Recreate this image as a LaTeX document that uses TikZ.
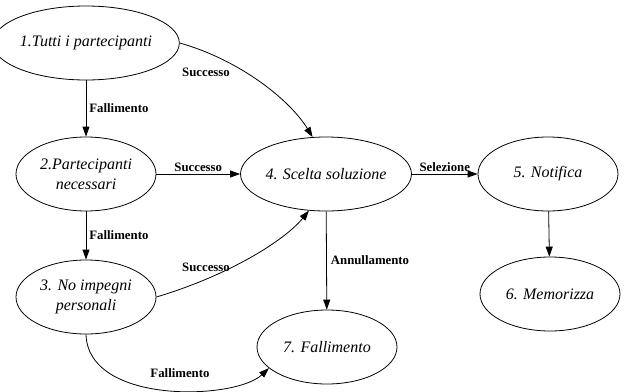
\documentclass[tikz,border=0pt]{standalone}
\usepackage{fontspec}
\setmainfont{Liberation Serif}
\usepackage{tikz}
\usetikzlibrary{shapes.geometric,arrows.meta}

\begin{document}
\begin{tikzpicture}[x=1pt,y=-1pt,
	stato/.style={draw, ellipse, line width=0.8pt, minimum width=140pt, minimum height=74pt, inner sep=0pt,
		align=center, font=\fontsize{16}{20}\selectfont\itshape},
	evento/.style={font=\fontsize{12.8}{14}\selectfont\bfseries, inner sep=1pt},
	freccia/.style={-{Triangle[length=10pt,width=7pt]}, line width=0.8pt}]
\useasboundingbox (0,0) rectangle (626,391);
\node[stato] (s1) at (86,43) {1.Tutti i partecipanti};
\node[stato] (s2) at (86,174) {2.Partecipanti\\necessari};
\node[stato] (s3) at (86,297) {3. No impegni\\personali};
\node[stato] (s4) at (326,174) {4. Scelta soluzione};
\node[stato] (s5) at (548,174) {5. Notifica};
\node[stato] (s6) at (550,294) {6. Memorizza};
\node[stato] (s7) at (327,347) {7. Fallimento};
% transizioni
\draw[freccia] (s1) -- node[evento, right=2pt] {Fallimento} (s2);
\draw[freccia] (s2) -- node[evento, right=2pt] {Fallimento} (s3);
\draw[freccia] (s2) -- node[evento, above=1pt] {Successo} (s4);
\draw[freccia] (s4) -- node[evento, above=1pt] {Selezione} (s5);
\draw[freccia] (s4) -- node[evento, right=3pt] {Annullamento} (s7);
\draw[freccia] (s5) -- (s6);
\draw[freccia] (s1.east) .. controls (240,60) and (290,100) .. (s4.110);
\draw[freccia] (s3.east) .. controls (230,275) and (285,240) .. (s4.245);
\draw[freccia] (s3.south) .. controls (88,405) and (235,400) .. (s7.200);
\node[evento] (e14) at (206,72) {Successo};
\node[evento] (e34) at (206,267) {Successo};
\node[evento] (e37) at (180,373) {Fallimento};
\end{tikzpicture}
\end{document}
